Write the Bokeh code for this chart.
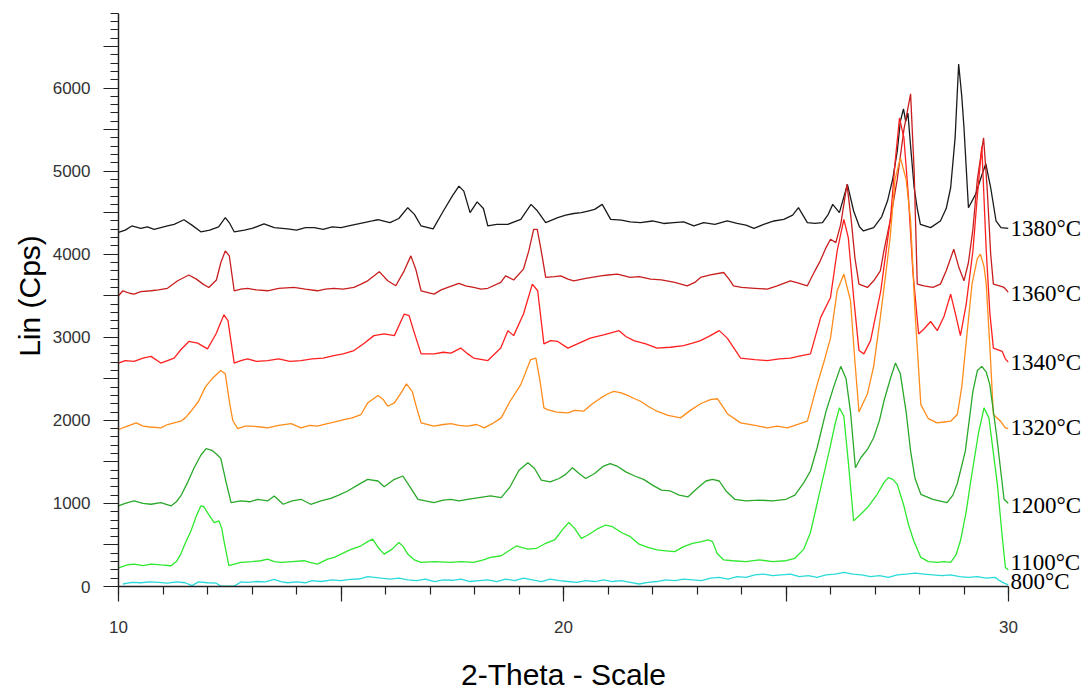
from bokeh.plotting import figure
from bokeh.models import FixedTicker, Range1d, LinearAxis
from bokeh.embed import file_html
from bokeh.resources import INLINE

# ---- data: (2-theta, counts) ----
pts_1380 = [(10.0,4262),(10.15,4290),(10.3,4340),(10.5,4310),(10.65,4330),(10.8,4300),(10.95,4320),(11.1,4340),
    (11.25,4360),(11.47,4415),(11.65,4350),(11.85,4270),(12.05,4290),(12.25,4330),(12.4,4440),(12.5,4370),(12.6,4270),
    (12.83,4290),(13.0,4310),(13.27,4365),(13.5,4320),(13.8,4305),(14.0,4290),(14.2,4320),(14.4,4320),(14.6,4300),
    (14.8,4330),(15.0,4320),(15.25,4350),(15.52,4380),(15.7,4400),(15.83,4415),(16.1,4380),(16.3,4430),(16.5,4560),
    (16.65,4480),(16.8,4340),(17.07,4305),(17.3,4520),(17.5,4700),(17.65,4820),(17.76,4760),(17.9,4500),(18.06,4630),
    (18.2,4550),(18.3,4340),(18.5,4360),(18.75,4360),(19.04,4420),(19.27,4600),(19.4,4530),(19.6,4380),(19.87,4440),
    (20.05,4470),(20.23,4490),(20.4,4500),(20.55,4520),(20.7,4540),(20.87,4600),(21.06,4420),(21.3,4410),(21.5,4390),
    (21.73,4380),(22.0,4400),(22.25,4370),(22.48,4380),(22.7,4390),(22.93,4340),(23.15,4380),(23.4,4360),(23.68,4400),
    (23.9,4370),(24.1,4350),(24.28,4310),(24.5,4360),(24.73,4400),(24.95,4420),(25.15,4470),(25.28,4560),(25.48,4380),
    (25.65,4370),(25.82,4380),(25.95,4480),(26.05,4600),(26.2,4500),(26.38,4840),(26.52,4520),(26.65,4330),(26.74,4280),
    (26.97,4320),(27.15,4450),(27.28,4640),(27.4,4910),(27.5,5240),(27.57,5600),(27.64,5750),(27.69,5600),(27.74,5700),
    (27.8,5300),(27.88,4800),(27.95,4550),(28.02,4360),(28.25,4320),(28.47,4400),(28.6,4550),(28.7,4800),(28.8,5400),
    (28.88,6290),(28.95,5900),(29.0,5520),(29.1,4560),(29.26,4720),(29.4,4950),(29.49,5090),(29.6,4800),(29.72,4400),
    (29.83,4320),(30.0,4310)]

pts_1360 = [(10.0,3500),(10.1,3560),(10.25,3530),(10.35,3520),(10.5,3550),(10.73,3560),(10.9,3570),(11.1,3590),
    (11.33,3680),(11.58,3750),(11.75,3700),(11.9,3640),(12.03,3600),(12.2,3690),(12.3,3900),(12.4,4040),(12.49,3980),
    (12.6,3560),(12.75,3580),(12.9,3590),(13.1,3570),(13.35,3560),(13.6,3590),(13.94,3600),(14.2,3580),(14.47,3560),
    (14.65,3580),(14.84,3590),(15.05,3580),(15.29,3600),(15.45,3640),(15.6,3680),(15.86,3790),(16.05,3680),(16.23,3620),
    (16.42,3800),(16.57,3980),(16.68,3820),(16.8,3560),(17.09,3520),(17.25,3570),(17.4,3600),(17.65,3650),(17.8,3620),
    (17.98,3600),(18.15,3580),(18.3,3590),(18.59,3660),(18.7,3740),(18.88,3690),(19.1,3820),(19.22,4040),(19.33,4300),
    (19.41,4300),(19.5,4040),(19.6,3720),(19.8,3730),(19.94,3740),(20.1,3700),(20.23,3680),(20.5,3710),(20.84,3740),
    (21.0,3750),(21.21,3760),(21.5,3720),(21.7,3730),(21.96,3700),(22.2,3690),(22.5,3660),(22.78,3620),(22.95,3660),
    (23.08,3720),(23.3,3750),(23.6,3780),(23.72,3700),(23.82,3620),(24.0,3600),(24.3,3590),(24.58,3580),(24.8,3620),
    (25.1,3680),(25.3,3650),(25.48,3620),(25.65,3800),(25.77,3920),(25.9,4080),(26.0,4180),(26.12,4140),(26.23,4360),
    (26.37,4840),(26.46,4440),(26.55,3950),(26.64,3640),(26.83,3600),(26.97,3680),(27.12,3800),(27.2,4040),(27.34,4400),
    (27.5,4900),(27.65,5500),(27.8,5930),(27.88,5000),(27.95,3640),(28.1,3620),(28.3,3600),(28.47,3640),(28.6,3800),
    (28.77,4060),(28.88,3850),(29.0,3680),(29.1,3900),(29.2,4300),(29.3,4900),(29.44,5400),(29.52,4800),(29.6,4000),
    (29.66,3640),(29.8,3620),(29.9,3600),(30.0,3540)]

pts_1340 = [(10.0,2690),(10.15,2720),(10.35,2710),(10.55,2750),(10.73,2770),(10.95,2690),(11.1,2720),(11.25,2750),
    (11.4,2850),(11.58,2950),(11.78,2930),(12.0,2860),(12.19,3040),(12.37,3270),(12.46,3200),(12.6,2690),(12.75,2720),
    (12.9,2740),(13.1,2710),(13.35,2720),(13.6,2740),(13.85,2710),(14.1,2720),(14.35,2740),(14.6,2750),(14.84,2780),
    (15.05,2800),(15.29,2840),(15.5,2920),(15.74,3020),(15.97,3040),(16.2,3020),(16.42,3280),(16.53,3260),(16.65,3050),
    (16.8,2800),(17.09,2800),(17.3,2820),(17.47,2810),(17.69,2870),(17.85,2800),(17.98,2750),(18.3,2720),(18.59,2870),
    (18.75,3080),(18.88,3020),(19.1,3280),(19.3,3640),(19.42,3560),(19.56,2920),(19.71,2960),(19.87,2950),(20.1,2870),
    (20.35,2930),(20.6,2990),(20.9,3030),(21.25,3080),(21.4,3010),(21.58,2960),(21.85,2920),(22.1,2870),(22.4,2880),
    (22.7,2900),(22.9,2930),(23.08,2960),(23.3,3020),(23.5,3080),(23.68,2990),(23.98,2750),(24.3,2730),(24.58,2720),
    (24.85,2740),(25.1,2750),(25.35,2780),(25.55,2800),(25.78,3240),(26.0,3480),(26.15,4040),(26.3,4420),(26.4,4200),
    (26.52,3480),(26.64,2840),(26.75,2800),(26.9,2960),(27.13,3560),(27.35,4440),(27.45,5100),(27.55,5640),(27.65,5400),
    (27.75,4700),(27.85,3800),(27.98,3040),(28.1,3100),(28.25,3190),(28.4,3080),(28.55,3250),(28.7,3520),(28.8,3300),
    (28.92,3020),(29.05,3400),(29.2,4040),(29.3,4700),(29.4,5300),(29.5,4040),(29.58,3300),(29.66,2870),(29.86,2830),
    (29.93,2740),(30.0,2700)]

pts_1320 = [(10.0,1890),(10.2,1930),(10.4,1970),(10.55,1930),(10.7,1920),(10.95,1910),(11.1,1950),(11.25,1970),
    (11.4,1990),(11.5,2030),(11.63,2110),(11.8,2230),(11.95,2400),(12.1,2500),(12.3,2600),(12.4,2560),(12.5,2200),
    (12.57,1995),(12.68,1900),(12.85,1930),(13.0,1930),(13.2,1920),(13.35,1910),(13.6,1940),(13.88,1960),(14.1,1910),
    (14.3,1940),(14.47,1930),(14.6,1950),(14.77,1970),(15.07,2010),(15.25,2030),(15.45,2070),(15.6,2210),(15.83,2300),
    (15.95,2250),(16.05,2170),(16.2,2210),(16.35,2330),(16.47,2440),(16.6,2350),(16.7,2150),(16.8,1970),(17.09,1930),
    (17.3,1950),(17.47,1960),(17.65,1940),(17.84,1930),(18.05,1950),(18.22,1910),(18.4,1960),(18.6,2030),(18.8,2230),
    (19.04,2430),(19.26,2730),(19.38,2750),(19.48,2450),(19.56,2150),(19.64,2130),(19.85,2100),(20.1,2090),(20.25,2120),
    (20.45,2110),(20.65,2200),(20.84,2270),(21.0,2320),(21.13,2350),(21.3,2330),(21.44,2300),(21.6,2260),(21.73,2230),
    (21.9,2170),(22.1,2110),(22.35,2060),(22.63,2030),(22.85,2120),(23.08,2200),(23.3,2250),(23.46,2260),(23.6,2150),
    (23.68,2080),(23.98,1970),(24.3,1940),(24.58,1910),(24.8,1930),(25.03,1910),(25.25,1950),(25.48,1990),(25.7,2430),
    (25.85,2700),(26.0,2990),(26.15,3560),(26.3,3760),(26.45,3440),(26.55,2700),(26.64,2100),(26.83,2320),(26.97,2650),
    (27.12,3240),(27.25,3800),(27.34,4200),(27.45,4900),(27.57,5160),(27.7,4900),(27.8,4400),(27.9,3300),(28.03,2190),
    (28.2,2020),(28.4,1970),(28.55,1980),(28.7,1990),(28.85,2070),(28.95,2400),(29.03,2840),(29.18,3640),(29.3,3950),
    (29.37,4000),(29.45,3850),(29.5,3640),(29.58,2900),(29.66,2070),(29.82,1990),(29.93,1910),(30.0,1900)]

pts_1200 = [(10.0,970),(10.15,1000),(10.35,1030),(10.55,1000),(10.73,990),(10.95,1010),(11.18,970),(11.3,1020),
    (11.4,1090),(11.55,1250),(11.7,1430),(11.85,1580),(11.97,1660),(12.1,1640),(12.23,1580),(12.3,1540),(12.42,1250),
    (12.53,1010),(12.75,1030),(12.95,1020),(13.13,1050),(13.35,1030),(13.5,1090),(13.7,990),(13.9,1030),(14.1,1050),
    (14.32,990),(14.55,1030),(14.77,1060),(14.95,1100),(15.15,1150),(15.4,1230),(15.6,1290),(15.83,1270),(15.97,1200),
    (16.2,1290),(16.39,1330),(16.55,1200),(16.73,1050),(16.9,1030),(17.09,1010),(17.3,1040),(17.47,1050),(17.65,1030),
    (17.84,1050),(18.1,1070),(18.36,1090),(18.6,1070),(18.8,1200),(19.0,1400),(19.2,1490),(19.35,1420),(19.5,1280),
    (19.7,1260),(19.9,1300),(20.05,1350),(20.2,1430),(20.35,1360),(20.5,1300),(20.7,1360),(20.9,1450),(21.05,1480),
    (21.2,1450),(21.4,1380),(21.6,1330),(21.8,1290),(22.0,1220),(22.2,1160),(22.4,1150),(22.6,1100),(22.8,1080),
    (23.0,1180),(23.2,1270),(23.35,1290),(23.5,1270),(23.65,1150),(23.85,1050),(24.1,1030),(24.4,1040),(24.7,1030),
    (25.0,1050),(25.2,1100),(25.4,1250),(25.55,1390),(25.7,1670),(25.9,2110),(26.07,2400),(26.23,2650),(26.35,2500),
    (26.45,2100),(26.56,1430),(26.68,1550),(26.83,1650),(26.97,1790),(27.1,2000),(27.2,2230),(27.35,2510),(27.46,2690),
    (27.57,2560),(27.7,2100),(27.8,1630),(27.9,1300),(28.03,1110),(28.3,1050),(28.62,1010),(28.75,1100),(28.85,1240),
    (29.03,1630),(29.2,2350),(29.3,2600),(29.4,2650),(29.5,2580),(29.58,2430),(29.73,1830),(29.9,1050),(30.0,1000)]

pts_1100 = [(10.0,225),(10.2,260),(10.35,270),(10.55,250),(10.73,270),(10.95,260),(11.18,250),(11.3,300),(11.4,390),
    (11.5,520),(11.63,670),(11.75,850),(11.85,970),(11.92,960),(12.0,890),(12.15,770),(12.26,790),(12.32,700),
    (12.37,550),(12.48,250),(12.6,270),(12.75,290),(13.0,300),(13.2,310),(13.35,330),(13.5,300),(13.65,290),(13.9,300),
    (14.17,310),(14.3,290),(14.47,270),(14.7,330),(14.85,350),(15.0,390),(15.2,440),(15.45,490),(15.6,540),(15.71,570),
    (15.85,460),(15.97,390),(16.15,450),(16.3,530),(16.4,480),(16.5,390),(16.65,320),(16.8,290),(17.1,300),(17.47,290),
    (17.7,300),(17.98,290),(18.2,320),(18.36,350),(18.6,370),(18.8,440),(18.95,490),(19.05,470),(19.2,450),(19.4,460),
    (19.6,520),(19.8,560),(20.0,700),(20.12,770),(20.25,700),(20.4,580),(20.55,620),(20.75,690),(20.95,740),(21.1,720),
    (21.3,650),(21.5,600),(21.7,510),(21.9,470),(22.1,440),(22.3,430),(22.5,420),(22.7,480),(22.9,520),(23.1,540),
    (23.25,560),(23.35,540),(23.45,400),(23.6,320),(23.8,310),(24.1,300),(24.4,320),(24.7,300),(25.0,310),(25.2,340),
    (25.4,450),(25.55,650),(25.7,1000),(25.85,1350),(26.0,1700),(26.1,1950),(26.2,2150),(26.3,2050),(26.4,1500),
    (26.52,790),(26.68,870),(26.83,950),(27.05,1110),(27.2,1250),(27.3,1310),(27.4,1290),(27.5,1230),(27.64,990),
    (27.75,750),(27.87,550),(28.03,350),(28.2,300),(28.4,290),(28.55,300),(28.7,290),(28.82,380),(28.92,550),(29.05,900),
    (29.14,1230),(29.32,1830),(29.45,2150),(29.56,2030),(29.65,1650),(29.75,1230),(29.85,650),(29.93,230),(30.0,200)]

pts_800 = [(10.1,30),(10.3,50),(10.5,45),(10.7,55),(10.9,50),(11.1,40),(11.3,55),(11.5,45),(11.65,10),(11.8,55),
    (12.0,45),(12.2,40),(12.3,5),(12.6,5),(12.75,55),(12.9,50),(13.1,60),(13.3,55),(13.5,85),(13.65,60),(13.8,45),
    (14.0,55),(14.2,45),(14.35,70),(14.55,60),(14.8,80),(15.0,70),(15.2,85),(15.4,90),(15.6,120),(15.75,110),(15.9,100),
    (16.1,90),(16.3,100),(16.5,80),(16.7,70),(16.9,90),(17.1,60),(17.3,80),(17.5,75),(17.7,90),(17.9,60),(18.1,70),
    (18.3,80),(18.5,60),(18.7,90),(18.9,70),(19.1,100),(19.3,80),(19.5,60),(19.7,90),(19.9,70),(20.1,60),(20.3,50),
    (20.5,70),(20.7,60),(20.9,80),(21.1,60),(21.3,70),(21.5,50),(21.7,30),(21.9,50),(22.1,60),(22.3,80),(22.5,70),
    (22.7,90),(22.9,80),(23.1,70),(23.3,100),(23.5,110),(23.7,90),(23.9,120),(24.1,110),(24.3,140),(24.5,150),
    (24.7,130),(24.9,140),(25.1,150),(25.3,120),(25.5,130),(25.7,110),(25.9,140),(26.1,150),(26.3,170),(26.5,150),
    (26.7,140),(26.9,120),(27.1,130),(27.3,110),(27.5,140),(27.7,150),(27.9,160),(28.1,150),(28.3,140),(28.5,130),
    (28.7,140),(28.9,120),(29.1,110),(29.3,120),(29.5,100),(29.7,110),(29.8,70),(29.9,40),(30.0,20)]

series_names = ["1380°C", "1360°C", "1340°C", "1320°C", "1200°C", "1100°C", "800°C"]
series_pts = [pts_1380, pts_1360, pts_1340, pts_1320, pts_1200, pts_1100, pts_800]
series_colors = ["#1a1a1a", "#c81e1e", "#ff2020", "#ff8c1a", "#2aa82a", "#2ee82e", "#2adada"]

# vertical position (counts) of each curve's end label
label_y = [4306, 3523, 2693, 1912, 973, 287, 60]

x_ticks = [10, 15, 20, 25, 30]
x_minor = list(range(10, 31))
y_ticks = list(range(0, 7000, 500))
y_minor = list(range(0, 7000, 100))

p = figure(frame_width=890, frame_height=581, x_range=Range1d(10, 30), y_range=Range1d(0, 6994),
           output_backend="svg", toolbar_location=None,
           min_border_left=118, min_border_right=81, min_border_top=5, min_border_bottom=107)
p.outline_line_color = None
p.xgrid.visible = False
p.ygrid.visible = False
p.background_fill_color = "white"
p.border_fill_color = "white"

for name, pts, col in zip(series_names, series_pts, series_colors):
    xs = [a for a, b in pts]
    ys = [b for a, b in pts]
    p.line(xs, ys, line_color=col, line_width=1.3)

# curve-end labels as a right-hand axis whose ticks sit at each curve's end level
ra = LinearAxis(ticker=FixedTicker(ticks=label_y, minor_ticks=[]),
                major_label_overrides={yv: n for yv, n in zip(label_y, series_names)},
                axis_line_color=None, major_tick_line_color=None, minor_tick_line_color=None,
                major_tick_in=0, major_tick_out=0, minor_tick_in=0, minor_tick_out=0,
                major_label_text_font="Liberation Serif", major_label_text_font_size="23px",
                major_label_text_color="black", major_label_standoff=2)
p.add_layout(ra, "right")

ax = p.xaxis[0]
ax.ticker = FixedTicker(ticks=x_ticks, minor_ticks=x_minor)
ax.major_label_overrides = {15: "", 25: ""}
ax.axis_label = "2-Theta - Scale"
ax.axis_label_text_font = "Liberation Sans"
ax.axis_label_text_font_style = "normal"
ax.axis_label_text_font_size = "30px"
ax.axis_label_text_color = "black"
ax.axis_label_standoff = 22
ax.major_label_text_font = "Liberation Sans"
ax.major_label_text_font_size = "17px"
ax.major_label_text_color = "#333333"
ax.major_label_standoff = 19
ax.major_tick_in = 0
ax.major_tick_out = 15
ax.minor_tick_in = 0
ax.minor_tick_out = 8
ax.axis_line_width = 1.5
ax.axis_line_color = "#222222"
ax.major_tick_line_color = "#222222"
ax.minor_tick_line_color = "#222222"
ax.major_tick_line_width = 1.2
ax.minor_tick_line_width = 1.2

ay = p.yaxis[0]
ay.bounds = (0, 6900)
ay.ticker = FixedTicker(ticks=y_ticks, minor_ticks=y_minor)
ay.major_label_overrides = {t: "" for t in y_ticks if t % 1000 != 0}
ay.axis_label = "Lin (Cps)"
ay.axis_label_text_font = "Liberation Sans"
ay.axis_label_text_font_style = "normal"
ay.axis_label_text_font_size = "30px"
ay.axis_label_text_color = "black"
ay.axis_label_standoff = 4
ay.major_label_text_font = "Liberation Sans"
ay.major_label_text_font_size = "17px"
ay.major_label_text_color = "#333333"
ay.major_label_standoff = 13
ay.major_tick_in = 0
ay.major_tick_out = 15
ay.minor_tick_in = 0
ay.minor_tick_out = 8
ay.axis_line_width = 1.5
ay.axis_line_color = "#222222"
ay.major_tick_line_color = "#222222"
ay.minor_tick_line_color = "#222222"
ay.major_tick_line_width = 1.2
ay.minor_tick_line_width = 1.2

open("out.html", "w").write(file_html(p, INLINE))
